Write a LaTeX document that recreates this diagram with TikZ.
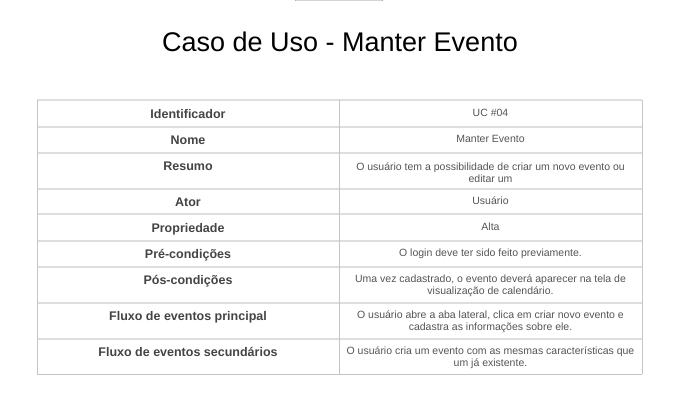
\documentclass[tikz,border=0pt]{standalone}
\usepackage{fontspec}
\setmainfont{Liberation Sans}
\definecolor{hline}{HTML}{DEDEDE}
\definecolor{vline}{HTML}{C4C4C4}
\definecolor{labelc}{HTML}{444444}
\definecolor{valuec}{HTML}{555555}
\definecolor{shade}{HTML}{F7F7F7}
\tikzset{
  lbl/.style={anchor=base, inner sep=0pt, text=labelc, font=\fontsize{12.5}{15}\selectfont\bfseries},
  val/.style={anchor=center, inner sep=0pt, align=center, text=valuec, font=\fontsize{10.5}{12.4}\selectfont},
  hrule/.style={draw=hline, line width=1.8pt},
  vrule/.style={draw=vline, line width=1pt},
}
\begin{document}
\begin{tikzpicture}[x=1pt,y=-1pt]
\useasboundingbox (0,0) rectangle (679,404);
\fill[white] (0,0) rectangle (679,404);
\fill[shade, rounded corners=1pt] (295,-2) rectangle (383,1);
\node[anchor=base, inner sep=0pt, font=\fontsize{27}{32}\selectfont] (title) at (340,52) {Caso de Uso - Manter Evento};
% grid
\foreach \y in {100,127,153,189,214,241,267,303,339}{
  \draw[hrule] (37,\y) -- (642,\y);
}
\draw[vline, line width=1pt] (37,374) -- (642,374);
\draw[vrule] (37,100) -- (37,374);
\draw[vrule] (339,100) -- (339,374);
\draw[vrule] (642,100) -- (642,374);
% labels
\node[lbl] (l1) at (188,118) {Identificador};
\node[lbl] (l2) at (188,144.5) {Nome};
\node[lbl] (l3) at (188,170) {Resumo};
\node[lbl] (l4) at (188,206) {Ator};
\node[lbl] (l5) at (188,232) {Propriedade};
\node[lbl] (l6) at (188,258.5) {Pré-condições};
\node[lbl] (l7) at (188,284) {Pós-condições};
\node[lbl] (l8) at (188,320) {Fluxo de eventos principal};
\node[lbl] (l9) at (188,356) {Fluxo de eventos secundários};
% values
\node[val] (v1) at (490.5,113) {UC \#04};
\node[val] (v2) at (490.5,139) {Manter Evento};
\node[val] (v3) at (490.5,172.5) {O usuário tem a possibilidade de criar um novo evento ou\\editar um};
\node[val] (v4) at (490.5,201) {Usuário};
\node[val] (v5) at (490.5,227) {Alta};
\node[val] (v6) at (490.5,253.5) {O login deve ter sido feito previamente.};
\node[val] (v7) at (490.5,286) {Uma vez cadastrado, o evento deverá aparecer na tela de\\visualização de calendário.};
\node[val] (v8) at (490.5,322) {O usuário abre a aba lateral, clica em criar novo evento e\\cadastra as informações sobre ele.};
\node[val] (v9) at (490.5,357.5) {O usuário cria um evento com as mesmas características que\\um já existente.};
\end{tikzpicture}
\end{document}
